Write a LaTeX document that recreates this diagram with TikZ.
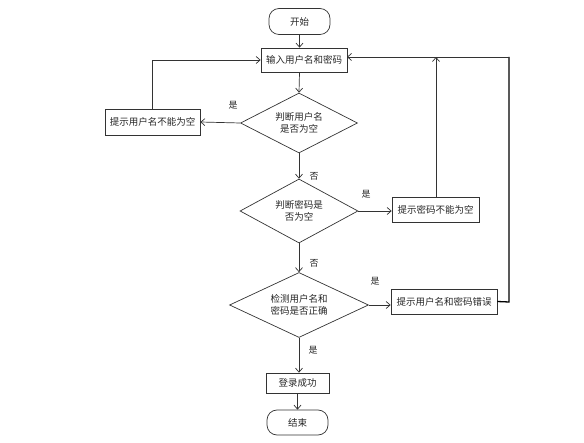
\documentclass[tikz,border=0pt]{standalone}
\usepackage{fontspec}
\setmainfont{Noto Sans CJK SC}
\usetikzlibrary{arrows.meta,shapes.geometric}
\begin{document}
\begin{tikzpicture}[x=1pt,y=-1pt,
  every node/.style={font=\fontsize{9.5}{12}\selectfont, text=black!85},
  line/.style={draw=black!80, line width=0.7pt},
  arr/.style={line, -{Straight Barb[length=4pt,width=7pt]}},
  term/.style={line, rounded corners=10pt, minimum width=61pt, minimum height=26pt, inner sep=0pt},
  procbox/.style={line, minimum height=25pt, inner sep=0pt},
  decide/.style={line, diamond, inner sep=0pt, aspect=2},
  lbl/.style={font=\fontsize{9}{11}\selectfont}]
\useasboundingbox (0,0) rectangle (584,443);
\node[term] (start) at (299.5,21.5) {开始};
\node[procbox, minimum width=86pt, minimum height=24pt] (input) at (304,60) {输入用户名和密码};
\node[decide, minimum width=117pt, minimum height=60pt, align=center] (d1) at (299,123) {判断用户名\\是否为空};
\node[procbox, minimum width=95pt, minimum height=26pt] (e1) at (152.5,122) {提示用户名不能为空};
\node[decide, minimum width=118pt, minimum height=64pt, align=center] (d2) at (299,211) {判断密码是\\否为空};
\node[procbox, minimum width=87pt] (e2) at (435.5,209.5) {提示密码不能为空};
\node[decide, minimum width=139pt, minimum height=65pt, align=center] (d3) at (299,305) {检测用户名和\\密码是否正确};
\node[procbox, minimum width=106pt] (e3) at (444,301.5) {提示用户名和密码错误};
\node[procbox, minimum width=63pt, minimum height=20pt] (ok) at (297.5,383) {登录成功};
\node[term, minimum height=25pt] (end) at (297.5,422.5) {结束};

\coordinate (inR) at (347,57);
\coordinate (c1) at (152,60);
\coordinate (c2) at (436,57);
\coordinate (c3) at (509,302);
\coordinate (c4) at (509,57);

\draw[arr] (start) -- (start |- input.north);
\draw[arr] (start |- input.south) -- (d1.north);
\draw[arr] (d1.west) -- (e1.east);
\draw[arr] (e1.north -| c1) -- (c1) -- (input.west);
\draw[arr] (d1.south) -- (d2.north);
\draw[arr] (d2.east) -- (e2.west |- d2.east);
\draw[arr] (e2.north -| c2) -- (c2);
\draw[arr] (d2.south) -- (d3.north);
\draw[arr] (d3.east) -- (e3.west |- d3.east);
\draw[line, line width=1.3pt, draw=black] (e3.east) -- (c3) -- (c4);
\draw[arr] (c4) -- (inR);
\draw[arr] (d3.south) -- (ok.north -| d3.south);
\draw[arr] (ok) -- (end);

\node[lbl] (l1) at (233,105) {是};
\node[lbl] (l2) at (314,176) {否};
\node[lbl] (l3) at (366,194) {是};
\node[lbl] (l4) at (314,263) {否};
\node[lbl] (l5) at (375,281) {是};
\node[lbl] (l6) at (313,350) {是};
\end{tikzpicture}
\end{document}
